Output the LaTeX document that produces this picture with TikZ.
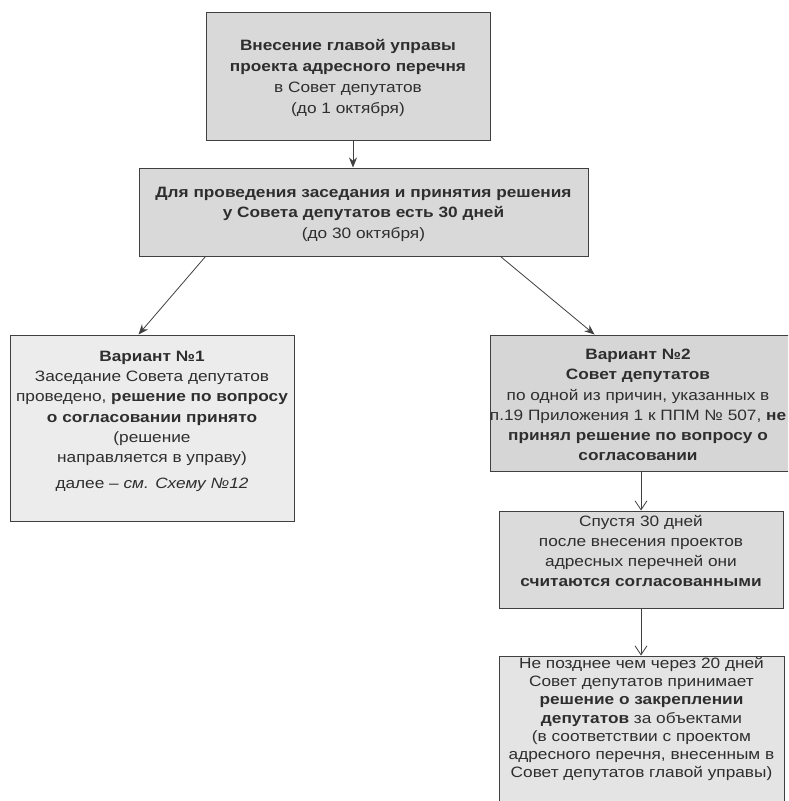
\documentclass[tikz,border=0pt]{standalone}
\usepackage{fontspec}
\setmainfont[FakeStretch=1.15]{Liberation Sans}
\usetikzlibrary{arrows.meta}
\definecolor{gA}{gray}{0.85}
\definecolor{gB}{gray}{0.85}
\definecolor{gV1}{gray}{0.925}
\definecolor{gV2}{gray}{0.84}
\definecolor{gS}{gray}{0.86}
\definecolor{gF}{gray}{0.895}
\definecolor{ink}{gray}{0.18}
\definecolor{edge}{gray}{0.25}
\begin{document}
\begin{tikzpicture}[x=1pt,y=-1pt,
  box/.style={draw=edge, line width=1pt, inner sep=0pt},
  txt/.style={text=ink, align=center, inner sep=0pt},
  solidarrow/.style={draw=edge, line width=0.8pt, -{Stealth[length=10pt,width=8pt]}},
  openarrow/.style={draw=edge, line width=0.8pt, -{Straight Barb[length=9pt,width=12pt,line width=0.8pt]}}
]
\useasboundingbox (0,0) rectangle (788,801);
\clip (0,0) rectangle (788,801);
\fill[white] (0,0) rectangle (788,801);

% top box
\node[box, fill=gA, minimum width=284pt, minimum height=128pt] (b1) at (348,76) {};
\node[txt, font=\fontsize{15}{21}\selectfont] (b1t) at (348,78)
  {\textbf{Внесение главой управы}\\\textbf{проекта адресного перечня}\\в Совет депутатов\\(до 1 октября)};

% second box
\node[box, fill=gB, minimum width=449pt, minimum height=88pt] (b2) at (363.5,212) {};
\node[txt, font=\fontsize{15}{20.5}\selectfont] (b2t) at (363.5,214)
  {\textbf{Для проведения заседания и принятия решения}\\\textbf{у Совета депутатов есть 30 дней}\\(до 30 октября)};

% variant 1
\node[box, fill=gV1, minimum width=284pt, minimum height=186pt] (v1) at (152,428) {};
\node[txt, font=\fontsize{15}{20.3}\selectfont] (v1t) at (152,421)
  {\textbf{Вариант №1}\\Заседание Совета депутатов\\проведено, \textbf{решение по вопросу}\\\textbf{о согласовании принято}\\(решение\\направляется в управу)\\[5pt]далее -- \textit{см. Схему №12}};

% variant 2 (cut at the right edge)
\node[box, fill=gV2, minimum width=320pt, minimum height=136pt] (v2) at (650,403) {};
\node[txt, font=\fontsize{15}{20.3}\selectfont] (v2t) at (638,405)
  {\textbf{Вариант №2}\\\textbf{Совет депутатов}\\по одной из причин, указанных в\\п.19 Приложения 1 к ППМ № 507, \textbf{не}\\\textbf{принял решение по вопросу о}\\\textbf{согласовании}};

% after 30 days
\node[box, fill=gS, minimum width=284pt, minimum height=97pt] (s) at (641,559.5) {};
\node[txt, font=\fontsize{15}{20}\selectfont] (st) at (641,551)
  {Спустя 30 дней\\после внесения проектов\\адресных перечней они\\\textbf{считаются согласованными}};

% final box (cut at the bottom edge)
\node[box, fill=gF, minimum width=285pt, minimum height=170pt] (f) at (641.5,741) {};
\node[txt, font=\fontsize{15}{18.2}\selectfont] (ft) at (641.5,719)
  {Не позднее чем через 20 дней\\Совет депутатов принимает\\\textbf{решение о закреплении}\\\textbf{депутатов} за объектами\\(в соответствии с проектом\\адресного перечня, внесенным в\\Совет депутатов главой управы)};

% connectors
\draw[solidarrow] ([xshift=5pt]b1.south) -- ([xshift=5pt]b1.south |- b2.north);
\draw[solidarrow] ([xshift=67pt]b2.south west) -- ([xshift=129pt]v1.north west);
\draw[solidarrow] ([xshift=362pt]b2.south west) -- ([xshift=105pt]v2.north west);
\draw[openarrow] (s.north |- v2.south) -- (s.north);
\draw[openarrow] (s.south) -- (s.south |- f.north);
\end{tikzpicture}
\end{document}
